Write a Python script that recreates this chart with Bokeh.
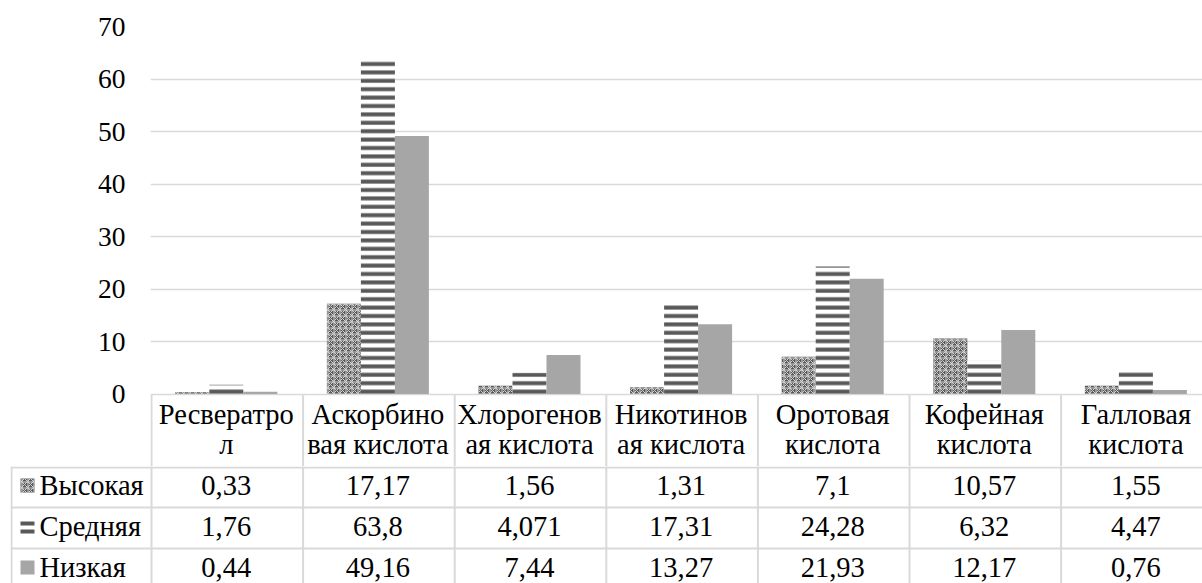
from bokeh.plotting import figure
from bokeh.models import Range1d, FixedTicker
from bokeh.layouts import column
from bokeh.embed import file_html
from bokeh.resources import INLINE
from bokeh.core.properties import value

# ---------------- data ----------------
categories = ["Ресвератро\nл", "Аскорбино\nвая кислота", "Хлорогенов\nая кислота",
              "Никотинов\nая кислота", "Оротовая\nкислота", "Кофейная\nкислота",
              "Галловая\nкислота"]
series_names = ["Высокая", "Средняя", "Низкая"]
vysokaya = [0.33, 17.17, 1.56, 1.31, 7.1, 10.57, 1.55]
srednyaya = [1.76, 63.8, 4.071, 17.31, 24.28, 6.32, 4.47]
nizkaya = [0.44, 49.16, 7.44, 13.27, 21.93, 12.17, 0.76]
y_ticks = [0, 10, 20, 30, 40, 50, 60, 70]

# ---------------- layout constants ----------------
FONT = value("Liberation Serif")
FS = "28.5px"
AXIS_FS = "27.5px"
W = 1202
TOP_H = 466
BOT_H = 583 - TOP_H
LEFT = 150
COL = 151.6
X_END = (W - LEFT) / COL
PX_PER_UNIT = 5.25
ZERO_PX = 393.5
Y_TOP = (ZERO_PX - 26) / PX_PER_UNIT
Y_BOT = -(TOP_H - ZERO_PX) / PX_PER_UNIT
GRID = "#d9d9d9"
DARK = "#595959"
LIGHT = "#a6a6a6"
BW = 34 / COL
TXT_SHIFT = 10  # text baseline correction
HATCH_HIGH = dict(hatch_pattern="criss_cross", hatch_color="#d4d4d4", hatch_scale=6, hatch_weight=1)


def px(xp):
    return (xp - LEFT) / COL


n = len(categories)
centers = [i + 0.5 for i in range(n)]

# ---------------- chart ----------------
p = figure(width=W, height=TOP_H, x_range=Range1d(0, X_END), y_range=Range1d(Y_BOT, Y_TOP),
           output_backend="svg", toolbar_location=None, x_axis_location=None,
           min_border_left=LEFT, min_border_right=0, min_border_top=26, min_border_bottom=0,
           frame_align=False)
p.extra_y_ranges = {"px": Range1d(TOP_H, 26)}
p.outline_line_color = None
p.xgrid.visible = False
p.yaxis.ticker = FixedTicker(ticks=y_ticks)
p.yaxis.axis_line_color = None
p.yaxis.major_tick_line_color = None
p.yaxis.minor_tick_line_color = None
p.yaxis.major_tick_out = 0
p.yaxis.major_tick_in = 0
p.yaxis.major_label_standoff = 25
p.yaxis.major_label_text_font = "Liberation Serif"
p.yaxis.major_label_text_font_size = AXIS_FS
p.yaxis.major_label_text_color = "black"
p.ygrid.grid_line_color = GRID
p.ygrid.grid_line_width = 1.5

series_vals = [vysokaya, srednyaya, nizkaya]
for k, vals in enumerate(series_vals):
    xs = [c + (k - 1) * BW for c in centers]
    if k == 0:
        p.vbar(x=xs, top=vals, bottom=0, width=BW, line_color=None, fill_color=DARK)
        p.vbar(x=xs, top=vals, bottom=0, width=BW, line_color=None, fill_alpha=0, **HATCH_HIGH)
    elif k == 1:
        p.vbar(x=xs, top=vals, bottom=0, width=BW, line_color=None, fill_color="white")
        p.vbar(x=xs, top=vals, bottom=0, width=BW, line_color=None, fill_alpha=0,
               hatch_pattern="horizontal_line", hatch_color=DARK, hatch_scale=8.4, hatch_weight=4)
    else:
        p.vbar(x=xs, top=vals, bottom=0, width=BW, line_color=None, fill_color=LIGHT)

# header row of the data table
line1 = [c.split("\n")[0] for c in categories]
line2 = [c.split("\n")[1] if "\n" in c else "" for c in categories]
p.text(x=centers, y=[424 - TXT_SHIFT] * n, text=line1, y_range_name="px", text_font=FONT,
       text_font_size=FS, text_align="center", text_baseline="alphabetic", text_color="black")
p.text(x=centers, y=[454 - TXT_SHIFT] * n, text=line2, y_range_name="px", text_font=FONT,
       text_font_size=FS, text_align="center", text_baseline="alphabetic", text_color="black")
bounds = [i + 1.0 / COL for i in range(n + 1)]
p.segment(x0=bounds, y0=[394] * len(bounds), x1=bounds, y1=[TOP_H] * len(bounds),
          y_range_name="px", line_color=GRID, line_width=2)

# ---------------- table body ----------------
t = figure(width=W, height=BOT_H, x_range=Range1d(px(10), X_END), y_range=Range1d(583, TOP_H),
           output_backend="svg", toolbar_location=None, x_axis_location=None, y_axis_location=None,
           min_border_left=10, min_border_right=0, min_border_top=0, min_border_bottom=0,
           frame_align=False)
t.outline_line_color = None
t.grid.visible = False

row_lines = [467, 507, 548]
t.segment(x0=[px(10)] * 3, y0=row_lines, x1=[X_END] * 3, y1=row_lines, line_color=GRID, line_width=2)
vx = [px(11)] + bounds
t.segment(x0=vx, y0=[TOP_H] * len(vx), x1=vx, y1=[583] * len(vx), line_color=GRID, line_width=2)

baselines = [495, 536, 577]
for vals, base in zip(series_vals, baselines):
    t.text(x=centers, y=[base - TXT_SHIFT] * n, text=[str(v).replace(".", ",") for v in vals],
           text_font=FONT, text_font_size=FS, text_align="center", text_baseline="alphabetic",
           text_color="black")
t.text(x=[px(39)] * 3, y=[b - TXT_SHIFT for b in baselines], text=series_names, text_font=FONT,
       text_font_size=FS, text_align="left", text_baseline="alphabetic", text_color="black")

# legend keys
t.quad(left=[px(20)], right=[px(34)], top=[478], bottom=[492], line_color=None, fill_color=DARK)
t.quad(left=[px(20)], right=[px(34)], top=[478], bottom=[492], line_color=None, fill_alpha=0,
       **HATCH_HIGH)
t.quad(left=[px(20)] * 2, right=[px(34)] * 2, top=[521, 529], bottom=[525, 533],
       line_color=None, fill_color=DARK)
t.quad(left=[px(20)], right=[px(34)], top=[560], bottom=[574], line_color=None, fill_color=LIGHT)

layout = column(p, t, spacing=0)
open("out.html", "w").write(file_html(layout, INLINE))
